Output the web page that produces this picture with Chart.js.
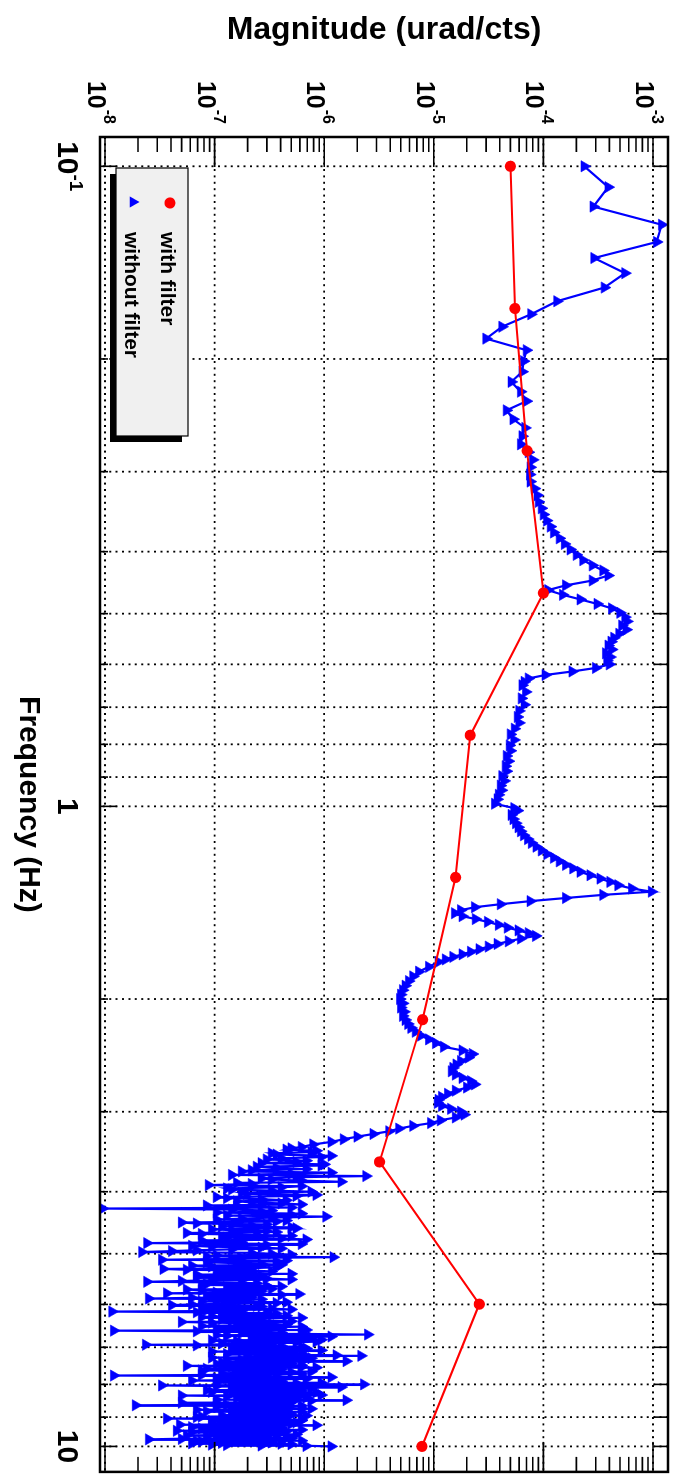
<!DOCTYPE html>
<html>
<head>
<meta charset="utf-8">
<script src="https://cdn.jsdelivr.net/npm/chart.js@4.4.0/dist/chart.umd.min.js"></script>
<style>
  html, body { margin: 0; padding: 0; background: #fff; overflow: hidden; }
  /* the plot is drawn in landscape and turned a quarter clockwise */
  #wrap { position: absolute; left: 0; top: 0; width: 1479px; height: 686px;
          transform-origin: 0 0; transform: translateX(686px) rotate(90deg); }
</style>
</head>
<body>
<div id="wrap"><canvas id="chart" width="1479" height="686"></canvas></div>
<script>
// ---- data -------------------------------------------------------------
const withFreq = [0.1, 0.1668, 0.2783, 0.4642, 0.7743, 1.2915, 2.1544, 3.5938, 5.9948, 10];
const withMag = [5.0e-5, 5.5e-5, 7.1e-5, 1.0e-4, 2.15e-5, 1.58e-5, 7.9e-6, 3.2e-6, 2.6e-5, 7.8e-6];

// without filter, low frequencies (every sample)
const noFreqA = [0.1, 0.1078, 0.1156, 0.1234, 0.1313, 0.1391, 0.1469, 0.1547, 0.1625, 0.1703,
  0.1781, 0.1859, 0.1938, 0.2016, 0.2094, 0.2172, 0.225, 0.2328, 0.2406, 0.2484,
  0.2563, 0.2641, 0.2719, 0.2797, 0.2875, 0.2953, 0.3031, 0.3109, 0.3188, 0.3266,
  0.3344, 0.3422, 0.35, 0.3578, 0.3656, 0.3734, 0.3813, 0.3891, 0.3969, 0.4047,
  0.4125, 0.4203, 0.4281, 0.4359, 0.4438, 0.4516, 0.4594, 0.4672, 0.475, 0.4828,
  0.4906, 0.4984, 0.5063, 0.5141, 0.5219, 0.5297, 0.5375, 0.5453, 0.5531, 0.5609,
  0.5688, 0.5766, 0.5844, 0.5922, 0.6, 0.6078, 0.6156, 0.6234, 0.6313, 0.6391, 0.6469];
const noMagA = [2.36e-4, 3.9e-4, 2.85e-4, 1.2e-3, 1.08e-3, 2.9e-4, 5.55e-4, 3.6e-4, 1.33e-4, 7.7e-5,
  4.2e-5, 3.0e-5, 7.0e-5, 6.6e-5, 6.4e-5, 5.1e-5, 6.2e-5, 7.0e-5, 4.6e-5, 5.3e-5,
  6.8e-5, 6.4e-5, 6.2e-5, 7.3e-5, 8.0e-5, 7.6e-5, 7.5e-5, 7.6e-5, 8.3e-5, 8.8e-5,
  9.0e-5, 9.6e-5, 1.0e-4, 1.07e-4, 1.16e-4, 1.24e-4, 1.4e-4, 1.56e-4, 1.76e-4, 2.0e-4,
  2.3e-4, 2.8e-4, 3.5e-4, 3.9e-4, 2.8e-4, 1.6e-4, 1.1e-4, 1.5e-4, 2.17e-4, 3.1e-4,
  4.2e-4, 5.0e-4, 5.55e-4, 5.8e-4, 5.2e-4, 5.7e-4, 4.9e-4, 4.4e-4, 4.15e-4, 3.9e-4,
  4.2e-4, 3.7e-4, 4.06e-4, 3.8e-4, 4.0e-4, 3.0e-4, 1.83e-4, 1.04e-4, 7.3e-5, 6.7e-5, 6.4e-5];

const noFreqB = [0.6625, 0.6781, 0.6938, 0.7094, 0.725, 0.7406, 0.7563, 0.7719, 0.7875, 0.8031,
  0.8188, 0.8344, 0.85, 0.8656, 0.8813, 0.8969, 0.9125, 0.9281, 0.9438, 0.9594,
  0.975, 0.9906, 1.0063];
const noMagB = [6.9e-5, 6.3e-5, 6.7e-5, 6.0e-5, 5.8e-5, 6.0e-5, 5.45e-5, 5.0e-5, 5.4e-5, 4.9e-5,
  5.0e-5, 4.6e-5, 4.8e-5, 4.5e-5, 4.6e-5, 4.2e-5, 4.4e-5, 4.06e-5, 4.15e-5, 3.9e-5,
  3.8e-5, 3.6e-5, 5.4e-5];

const noFreqC = [1.0156, 1.0313, 1.0469, 1.0625, 1.0781, 1.0938, 1.1094, 1.125, 1.1406, 1.1563,
  1.1719, 1.1875, 1.2031, 1.2188, 1.2344, 1.25, 1.2656, 1.2813, 1.2969, 1.3125,
  1.3281, 1.3438, 1.3594, 1.375, 1.3906, 1.4063, 1.4219, 1.4375, 1.4531, 1.4688,
  1.4844, 1.5, 1.5156, 1.5313, 1.5469, 1.5625, 1.5781, 1.5938, 1.6094, 1.625,
  1.6406, 1.6563, 1.6719, 1.6875, 1.7031, 1.7188, 1.7344, 1.75,
  1.7813, 1.8125, 1.8438, 1.875, 1.9063, 1.9375, 1.9688, 2.0, 2.0313, 2.0625,
  2.0938, 2.125, 2.1563, 2.1875, 2.2188, 2.25, 2.2813, 2.3125, 2.3438, 2.375,
  2.4063, 2.4375, 2.4688, 2.5, 2.5313, 2.5625, 2.5938, 2.625, 2.6563, 2.6875,
  2.7188, 2.75, 2.7813, 2.8125, 2.8438, 2.875, 2.9063, 2.9375, 2.9688, 3.0,
  3.0313, 3.0625, 3.0938, 3.125, 3.1563, 3.1875, 3.2188, 3.25, 3.2813, 3.3125,
  3.3438, 3.375];
const noMagC = [5.8e-5, 5.1e-5, 5.3e-5, 5.6e-5, 5.9e-5, 6.2e-5, 6.6e-5, 7.2e-5, 7.8e-5, 8.6e-5,
  9.6e-5, 1.08e-4, 1.24e-4, 1.4e-4, 1.6e-4, 1.86e-4, 2.17e-4, 2.67e-4, 3.3e-4, 4.06e-4,
  4.8e-4, 6.4e-4, 9.7e-4, 3.5e-4, 1.6e-4, 7.6e-5, 4.06e-5, 2.36e-5, 1.76e-5, 1.55e-5,
  1.82e-5, 2.4e-5, 3.1e-5, 3.9e-5, 4.7e-5, 5.9e-5, 7.3e-5, 8.5e-5, 6.2e-5, 4.8e-5,
  3.8e-5, 3.15e-5, 2.6e-5, 2.17e-5, 1.82e-5, 1.5e-5, 1.28e-5, 1.1e-5,
  9.0e-6, 7.3e-6, 6.45e-6, 5.9e-6, 5.5e-6, 5.2e-6, 5.0e-6, 4.9e-6, 5.2e-6, 5.0e-6,
  5.35e-6, 5.2e-6, 5.5e-6, 5.8e-6, 6.2e-6, 6.8e-6, 7.6e-6, 9.0e-6, 1.04e-5, 1.23e-5,
  1.82e-5, 2.25e-5, 2.07e-5, 1.76e-5, 1.6e-5, 1.5e-5, 1.45e-5, 1.58e-5, 1.82e-5, 2.17e-5,
  2.36e-5, 2.0e-5, 1.58e-5, 1.34e-5, 1.18e-5, 1.1e-5, 1.08e-5, 1.18e-5, 1.43e-5, 1.76e-5,
  1.9e-5, 1.58e-5, 1.15e-5, 9.4e-6, 6.45e-6, 4.8e-6, 3.9e-6, 2.8e-6, 2.0e-6, 1.5e-6,
  1.16e-6, 7.9e-7];

// noisy high frequency part
const noFreqD = [3.4063, 3.4375, 3.4688, 3.5, 3.5313, 3.5625, 3.5938, 3.625,
  3.6563, 3.6875, 3.7188, 3.75, 3.7813, 3.8125, 3.8438, 3.875,
  3.9063, 3.9375, 3.9688, 4.0, 4.0313, 4.0625, 4.0938, 4.125,
  4.1563, 4.1875, 4.2188, 4.25, 4.2813, 4.3125, 4.3438, 4.375,
  4.4063, 4.4375, 4.4688, 4.5, 4.5313, 4.5625, 4.5938, 4.625,
  4.6563, 4.6875, 4.7188, 4.75, 4.7813, 4.8125, 4.8438, 4.875,
  4.9063, 4.9375, 4.9688, 5.0, 5.0313, 5.0625, 5.0938, 5.125,
  5.1563, 5.1875, 5.2188, 5.25, 5.2813, 5.3125, 5.3438, 5.375,
  5.4063, 5.4375, 5.4688, 5.5, 5.5313, 5.5625, 5.5938, 5.625,
  5.6563, 5.6875, 5.7188, 5.75, 5.7813, 5.8125, 5.8438, 5.875,
  5.9063, 5.9375, 5.9688, 6.0, 6.0313, 6.0625, 6.0938, 6.125,
  6.1563, 6.1875, 6.2188, 6.25, 6.2813, 6.3125, 6.3438, 6.375,
  6.4063, 6.4375, 6.4688, 6.5, 6.5313, 6.5625, 6.5938, 6.625,
  6.6563, 6.6875, 6.7188, 6.75, 6.7813, 6.8125, 6.8438, 6.875,
  6.9063, 6.9375, 6.9688, 7.0, 7.0313, 7.0625, 7.0938, 7.125,
  7.1563, 7.1875, 7.2188, 7.25, 7.2813, 7.3125, 7.3438, 7.375,
  7.4063, 7.4375, 7.4688, 7.5, 7.5313, 7.5625, 7.5938, 7.625,
  7.6563, 7.6875, 7.7188, 7.75, 7.7813, 7.8125, 7.8438, 7.875,
  7.9063, 7.9375, 7.9688, 8.0, 8.0313, 8.0625, 8.0938, 8.125,
  8.1563, 8.1875, 8.2188, 8.25, 8.2813, 8.3125, 8.3438, 8.375,
  8.4063, 8.4375, 8.4688, 8.5, 8.5313, 8.5625, 8.5938, 8.625,
  8.6563, 8.6875, 8.7188, 8.75, 8.7813, 8.8125, 8.8438, 8.875,
  8.9063, 8.9375, 8.9688, 9.0, 9.0313, 9.0625, 9.0938, 9.125,
  9.1563, 9.1875, 9.2188, 9.25, 9.2813, 9.3125, 9.3438, 9.375,
  9.4063, 9.4375, 9.4688, 9.5, 9.5313, 9.5625, 9.5938, 9.625,
  9.6563, 9.6875, 9.7188, 9.75, 9.7813, 9.8125, 9.8438, 9.875,
  9.9063, 9.9375, 9.9688, 10.0];
const noMagD = [6.2e-7, 4.5e-7, 7.6e-7, 3.66e-7, 9.4e-7, 2.97e-7, 5.55e-7, 1.0e-6,
  2.41e-7, 6.85e-7, 1.76e-7, 5.0e-7, 2.41e-6, 2.67e-7, 6.2e-7, 1.59e-7,
  8.8e-8, 4.06e-7, 1.43e-7, 7.6e-7, 1.96e-7, 5.55e-7, 1.29e-7, 4.5e-7,
  2.17e-7, 6.2e-7, 1.59e-7, 9.5e-9, 3.3e-7, 1.04e-7, 5.0e-7, 1.04e-6,
  1.76e-7, 4.5e-7, 5.0e-8, 2.97e-7, 1.16e-7, 5.55e-7, 1.43e-7, 3.66e-7,
  7.6e-8, 5.0e-7, 1.29e-7, 6.85e-7, 1.59e-7, 2.41e-8, 2.97e-7, 9.4e-8,
  4.06e-7, 6.85e-8, 2.17e-8, 3.3e-7, 1.04e-7, 1.21e-6, 1.43e-7, 4.5e-7,
  8.45e-8, 2.67e-7, 6.2e-8, 3.66e-7, 3.4e-8, 2.17e-7, 1.04e-7, 5.0e-7,
  1.29e-7, 6.85e-8, 2.97e-7, 9.4e-8, 2.41e-8, 2.41e-7, 7.6e-8, 4.06e-7,
  1.43e-7, 5.55e-8, 2.67e-7, 1.04e-7, 5.9e-7, 8.45e-8, 2.17e-7, 2.5e-8,
  1.76e-7, 7.6e-8, 3.66e-7, 6.2e-8, 2.41e-7, 1.04e-7, 3.3e-7, 8.45e-8,
  1.16e-8, 2.97e-7, 1.16e-7, 4.5e-7, 7.6e-8, 2.17e-7, 1.43e-7, 5.0e-7,
  9.4e-8, 3.3e-7, 1.59e-7, 6.2e-7, 1.04e-7, 4.06e-7, 1.2e-8, 2.67e-7,
  1.76e-7, 2.5e-6, 1.29e-7, 7.6e-7, 2.17e-7, 9.4e-7, 1.59e-7, 5.55e-7,
  1.16e-7, 2.35e-8, 4.06e-7, 1.76e-7, 6.85e-7, 1.43e-7, 4.5e-7, 2.17e-7,
  6.2e-7, 1.96e-7, 2.17e-6, 2.41e-7, 7.6e-7, 1.29e-7, 5.0e-7, 1.76e-7,
  4.06e-7, 1.04e-7, 6.2e-7, 1.43e-7, 8.45e-7, 8.45e-8, 3.3e-7, 1.96e-7,
  5.0e-7, 1.16e-7, 3.66e-7, 1.2e-8, 2.97e-7, 1.29e-7, 6.85e-7, 1.59e-7,
  4.06e-7, 1.04e-7, 5.55e-7, 2.3e-6, 3.3e-8, 3.3e-7, 1.43e-7, 7.6e-7,
  1.76e-7, 6.2e-7, 9.4e-8, 4.5e-7, 2.17e-7, 9.4e-7, 1.29e-7, 3.66e-7,
  1.59e-7, 5.55e-7, 1.59e-6, 2.17e-7, 5.0e-7, 1.04e-7, 3.3e-7, 1.9e-8,
  4.06e-7, 1.43e-7, 6.2e-7, 1.96e-7, 4.5e-7, 8.45e-8, 2.97e-7, 1.76e-7,
  5.0e-7, 1.16e-7, 3.66e-7, 6.85e-8, 2.67e-7, 1.43e-7, 6.2e-7, 9.4e-8,
  3.3e-7, 1.59e-7, 5.0e-7, 4.8e-8, 2.41e-7, 1.04e-7, 4.06e-7, 7.6e-8,
  2.67e-7, 1.29e-7, 4.5e-7, 6.2e-8, 2.17e-7, 1.04e-7, 3.66e-7, 8.45e-8,
  2.97e-7, 1.43e-7, 5.0e-7, 2.5e-8, 2.41e-7, 6.85e-8, 3.3e-7, 1.16e-7,
  4.06e-7, 9.4e-8, 2.67e-7, 1.16e-6];

// the samples in between, same noisy band
const noFreqE = [3.4219, 3.4531, 3.4844, 3.5156, 3.5469, 3.5781, 3.6094, 3.6406,
  3.6719, 3.7031, 3.7344, 3.7656, 3.7969, 3.8281, 3.8594, 3.8906,
  3.9219, 3.9531, 3.9844, 4.0156, 4.0469, 4.0781, 4.1094, 4.1406,
  4.1719, 4.2031, 4.2344, 4.2656, 4.2969, 4.3281, 4.3594, 4.3906,
  4.4219, 4.4531, 4.4844, 4.5156, 4.5469, 4.5781, 4.6094, 4.6406,
  4.6719, 4.7031, 4.7344, 4.7656, 4.7969, 4.8281, 4.8594, 4.8906,
  4.9219, 4.9531, 4.9844, 5.0156, 5.0469, 5.0781, 5.1094, 5.1406,
  5.1719, 5.2031, 5.2344, 5.2656, 5.2969, 5.3281, 5.3594, 5.3906,
  5.4219, 5.4531, 5.4844, 5.5156, 5.5469, 5.5781, 5.6094, 5.6406,
  5.6719, 5.7031, 5.7344, 5.7656, 5.7969, 5.8281, 5.8594, 5.8906,
  5.9219, 5.9531, 5.9844, 6.0156, 6.0469, 6.0781, 6.1094, 6.1406,
  6.1719, 6.2031, 6.2344, 6.2656, 6.2969, 6.3281, 6.3594, 6.3906,
  6.4219, 6.4531, 6.4844, 6.5156, 6.5469, 6.5781, 6.6094, 6.6406,
  6.6719, 6.7031, 6.7344, 6.7656, 6.7969, 6.8281, 6.8594, 6.8906,
  6.9219, 6.9531, 6.9844, 7.0156, 7.0469, 7.0781, 7.1094, 7.1406,
  7.1719, 7.2031, 7.2344, 7.2656, 7.2969, 7.3281, 7.3594, 7.3906,
  7.4219, 7.4531, 7.4844, 7.5156, 7.5469, 7.5781, 7.6094, 7.6406,
  7.6719, 7.7031, 7.7344, 7.7656, 7.7969, 7.8281, 7.8594, 7.8906,
  7.9219, 7.9531, 7.9844, 8.0156, 8.0469, 8.0781, 8.1094, 8.1406,
  8.1719, 8.2031, 8.2344, 8.2656, 8.2969, 8.3281, 8.3594, 8.3906,
  8.4219, 8.4531, 8.4844, 8.5156, 8.5469, 8.5781, 8.6094, 8.6406,
  8.6719, 8.7031, 8.7344, 8.7656, 8.7969, 8.8281, 8.8594, 8.8906,
  8.9219, 8.9531, 8.9844, 9.0156, 9.0469, 9.0781, 9.1094, 9.1406,
  9.1719, 9.2031, 9.2344, 9.2656, 9.2969, 9.3281, 9.3594, 9.3906,
  9.4219, 9.4531, 9.4844, 9.5156, 9.5469, 9.5781, 9.6094, 9.6406,
  9.6719, 9.7031, 9.7344, 9.7656, 9.7969, 9.8281, 9.8594, 9.8906,
  9.9219, 9.9531, 9.9844];
const noMagE = [5.0e-7, 8.45e-7, 3.3e-7, 1.16e-6, 4.06e-7, 6.85e-7, 2.67e-7, 9.4e-7,
  3.66e-7, 2.17e-7, 1.16e-6, 1.43e-7, 5.55e-7, 3.3e-7, 1.43e-6, 2.17e-7,
  6.2e-7, 1.29e-7, 3.3e-7, 1.76e-7, 8.45e-7, 1.04e-7, 2.67e-7, 1.59e-7,
  4.06e-7, 8.45e-8, 5.0e-7, 1.43e-7, 2.67e-7, 6.2e-7, 1.29e-7, 3.3e-7,
  1.04e-7, 3.66e-7, 6.85e-8, 2.17e-7, 5.0e-7, 9.4e-8, 2.97e-7, 5.55e-8,
  2.41e-7, 1.16e-7, 4.06e-7, 7.6e-8, 1.76e-7, 6.2e-7, 6.2e-8, 2.67e-7,
  1.43e-7, 4.06e-8, 2.17e-7, 5.0e-7, 8.45e-8, 1.76e-7, 3.3e-8, 3.66e-7,
  1.59e-7, 4.06e-7, 9.4e-8, 2.17e-7, 5.55e-8, 3.3e-7, 1.29e-7, 6.85e-8,
  2.67e-7, 1.04e-7, 5.0e-7, 5.0e-8, 1.76e-7, 8.45e-8, 2.97e-7, 1.29e-7,
  3.3e-7, 7.6e-8, 1.96e-7, 3.66e-8, 4.06e-7, 1.43e-7, 6.2e-8, 2.67e-7,
  1.04e-7, 4.5e-7, 1.43e-7, 4.06e-8, 2.67e-7, 7.6e-8, 5.0e-7, 1.76e-7,
  6.85e-8, 3.66e-7, 1.59e-7, 9.4e-8, 6.2e-7, 1.16e-7, 2.67e-7, 5.0e-8,
  2.17e-7, 4.5e-7, 7.6e-8, 2.97e-7, 1.43e-7, 6.85e-7, 6.85e-8, 4.06e-7,
  6.2e-7, 1.04e-7, 1.16e-6, 2.17e-7, 4.06e-7, 9.4e-8, 8.45e-7, 1.76e-7,
  3.3e-7, 6.85e-8, 6.2e-7, 1.43e-7, 2.97e-7, 9.4e-7, 9.4e-8, 5.0e-7,
  1.29e-7, 1.29e-6, 3.3e-7, 9.4e-8, 6.85e-7, 1.76e-7, 1.59e-6, 1.16e-7,
  5.0e-7, 2.17e-7, 5.55e-8, 6.2e-7, 1.59e-7, 4.06e-7, 7.6e-8, 7.6e-7,
  1.96e-7, 6.2e-7, 7.6e-8, 2.67e-7, 1.16e-6, 1.04e-7, 3.3e-7, 6.2e-8,
  2.17e-7, 9.4e-7, 1.43e-7, 4.5e-7, 1.04e-7, 1.43e-6, 1.96e-7, 5.0e-7,
  8.45e-8, 3.3e-7, 8.45e-7, 1.43e-7, 5.55e-7, 5.0e-8, 2.67e-7, 6.85e-7,
  3.3e-7, 1.04e-7, 7.6e-7, 1.76e-7, 5.0e-8, 4.5e-7, 1.29e-7, 6.2e-7,
  1.04e-7, 2.97e-7, 7.6e-7, 6.85e-8, 2.17e-7, 6.2e-7, 1.43e-7, 3.66e-7,
  1.76e-7, 6.85e-7, 7.6e-8, 4.5e-7, 3.66e-8, 2.41e-7, 6.2e-7, 1.29e-7,
  5.55e-7, 9.4e-8, 2.17e-7, 8.45e-7, 1.43e-7, 6.2e-8, 3.66e-7, 1.76e-7,
  6.2e-7, 4.5e-8, 1.76e-7, 4.06e-7, 9.4e-8, 5.55e-7, 5.55e-8, 2.67e-7,
  1.04e-7, 4.5e-7, 5.0e-8, 2.17e-7, 6.2e-7, 7.6e-8, 3.3e-7, 6.2e-8,
  5.0e-7, 1.29e-7, 6.85e-7];

// axes
const FREQ_MIN = 0.09, FREQ_MAX = 10.96;
const MAG_MIN = 9.45e-9, MAG_MAX = 1.37e-3;
const freqGrid = [0.1, 0.2, 0.3, 0.4, 0.5, 0.6, 0.7, 0.8, 0.9, 1, 2, 3, 4, 5, 6, 7, 8, 9, 10];
const freqMajor = [0.1, 1, 10];
const freqLabelBase = ['10', '1', '10'];
const freqLabelExp = ['-1', '', ''];
const magDecades = [1e-8, 1e-7, 1e-6, 1e-5, 1e-4, 1e-3];
const magLabelExp = ['-8', '-7', '-6', '-5', '-4', '-3'];
const magMinorSteps = [2, 3, 4, 5, 6, 7, 8, 9];

const FONT = '"Liberation Sans", Arial, Helvetica, sans-serif';

function points(fs, ms) {
  return fs.map((f, i) => ({ x: f, y: ms[i] }));
}

function line(ctx, x1, y1, x2, y2) {
  ctx.moveTo(x1, y1);
  ctx.lineTo(x2, y2);
}

// grid, frame, ticks, legend and labels in the ROOT look
const rootStyle = {
  id: 'rootStyle',
  beforeDatasetsDraw(chart) {
    const { ctx, chartArea: a, scales: { x, y } } = chart;
    ctx.save();
    ctx.strokeStyle = '#000';
    ctx.lineWidth = 1.8;
    ctx.setLineDash([2, 4.4]);
    ctx.beginPath();
    freqGrid.forEach(v => {
      const px = x.getPixelForValue(v);
      line(ctx, px, a.top, px, a.bottom);
    });
    magDecades.forEach(v => {
      const py = y.getPixelForValue(v);
      line(ctx, a.left, py, a.right, py);
    });
    ctx.stroke();
    ctx.restore();
  },
  afterDatasetsDraw(chart) {
    const { ctx, chartArea: a, scales: { x, y } } = chart;
    ctx.save();
    ctx.strokeStyle = '#000';
    ctx.setLineDash([]);
    ctx.lineWidth = 1.6;
    ctx.beginPath();
    freqGrid.forEach(v => {
      const px = x.getPixelForValue(v);
      const len = freqMajor.includes(v) ? 17 : 8;
      line(ctx, px, a.bottom, px, a.bottom - len);
      line(ctx, px, a.top, px, a.top + 14);
    });
    magDecades.forEach(v => {
      const py = y.getPixelForValue(v);
      line(ctx, a.left, py, a.left + 30, py);
      line(ctx, a.right, py, a.right - 30, py);
      magMinorSteps.forEach(s => {
        const m = v * s;
        if (m > MAG_MAX) return;
        const pm = y.getPixelForValue(m);
        line(ctx, a.left, pm, a.left + 15, pm);
        line(ctx, a.right, pm, a.right - 15, pm);
      });
    });
    ctx.stroke();
    ctx.lineWidth = 2.5;
    ctx.strokeRect(a.left, a.top, a.right - a.left, a.bottom - a.top);

    // legend box with shadow
    ctx.fillStyle = '#000';
    ctx.fillRect(174, 504, 268, 72);
    ctx.fillStyle = '#f0f0f0';
    ctx.fillRect(168, 498, 268, 72);
    ctx.lineWidth = 1.2;
    ctx.strokeRect(168, 498, 268, 72);

    ctx.fillStyle = '#ff0000';
    ctx.beginPath();
    ctx.arc(203, 516, 5.6, 0, Math.PI * 2);
    ctx.fill();
    ctx.fillStyle = '#0000ff';
    ctx.beginPath();
    ctx.moveTo(202, 546.5);
    ctx.lineTo(207.6, 556.3);
    ctx.lineTo(196.4, 556.3);
    ctx.closePath();
    ctx.fill();

    ctx.fillStyle = '#000';
    ctx.font = 'bold 21px ' + FONT;
    ctx.textAlign = 'left';
    ctx.textBaseline = 'alphabetic';
    ctx.fillText('with filter', 232, 525);
    ctx.fillText('without filter', 232, 561);
    ctx.restore();
  },
  afterDraw(chart) {
    const { ctx, chartArea: a, scales: { x, y } } = chart;
    ctx.save();
    ctx.fillStyle = '#000';
    ctx.textBaseline = 'alphabetic';

    // magnitude labels 10^n
    magDecades.forEach((v, i) => {
      const py = y.getPixelForValue(v);
      ctx.textAlign = 'right';
      ctx.font = 'bold 16px ' + FONT;
      const w = ctx.measureText(magLabelExp[i]).width;
      ctx.fillText(magLabelExp[i], 124, py + 1);
      ctx.font = 'bold 25px ' + FONT;
      ctx.fillText('10', 124 - w - 1, py + 17);
    });

    // frequency labels
    freqMajor.forEach((v, i) => {
      const px = x.getPixelForValue(v);
      ctx.textAlign = 'left';
      ctx.font = 'bold 19px ' + FONT;
      const we = freqLabelExp[i] ? ctx.measureText(freqLabelExp[i]).width : 0;
      ctx.font = 'bold 30px ' + FONT;
      const wb = ctx.measureText(freqLabelBase[i]).width;
      const x0 = px - (wb + we) / 2;
      ctx.fillText(freqLabelBase[i], x0, 628);
      if (we) {
        ctx.font = 'bold 19px ' + FONT;
        ctx.fillText(freqLabelExp[i], x0 + wb, 616);
      }
    });

    // axis titles
    ctx.textAlign = 'center';
    ctx.textBaseline = 'middle';
    ctx.font = 'bold 32px ' + FONT;
    ctx.save();
    ctx.translate(30, (a.top + a.bottom) / 2);
    ctx.rotate(-Math.PI / 2);
    ctx.fillText('Magnitude (urad/cts)', 0, 0);
    ctx.restore();
    ctx.font = 'bold 30px ' + FONT;
    ctx.fillText('Frequency (Hz)', (a.left + a.right) / 2, 658);
    ctx.restore();
  }
};

const noPoints = points(noFreqA, noMagA).concat(
  points(noFreqB, noMagB), points(noFreqC, noMagC),
  points(noFreqD, noMagD), points(noFreqE, noMagE)
).sort((p, q) => p.x - q.x);

const ctx = document.getElementById('chart').getContext('2d');
new Chart(ctx, {
  type: 'scatter',
  data: {
    datasets: [
      {
        label: 'with filter',
        data: points(withFreq, withMag),
        showLine: true,
        borderColor: '#ff0000',
        backgroundColor: '#ff0000',
        borderWidth: 2,
        pointRadius: 5.6,
        pointBorderWidth: 0,
        pointStyle: 'circle'
      },
      {
        label: 'without filter',
        data: noPoints,
        showLine: true,
        borderColor: '#0000ff',
        backgroundColor: '#0000ff',
        borderWidth: 2.2,
        pointRadius: 6.5,
        pointBorderWidth: 0.6,
        pointStyle: 'triangle'
      }
    ]
  },
  options: {
    responsive: false,
    animation: false,
    layout: { padding: { left: 137, right: 6, top: 18, bottom: 100 } },
    plugins: { legend: { display: false }, tooltip: { enabled: false } },
    scales: {
      x: { type: 'logarithmic', min: FREQ_MIN, max: FREQ_MAX, display: false },
      y: { type: 'logarithmic', min: MAG_MIN, max: MAG_MAX, display: false }
    }
  },
  plugins: [rootStyle]
});
</script>
</body>
</html>
